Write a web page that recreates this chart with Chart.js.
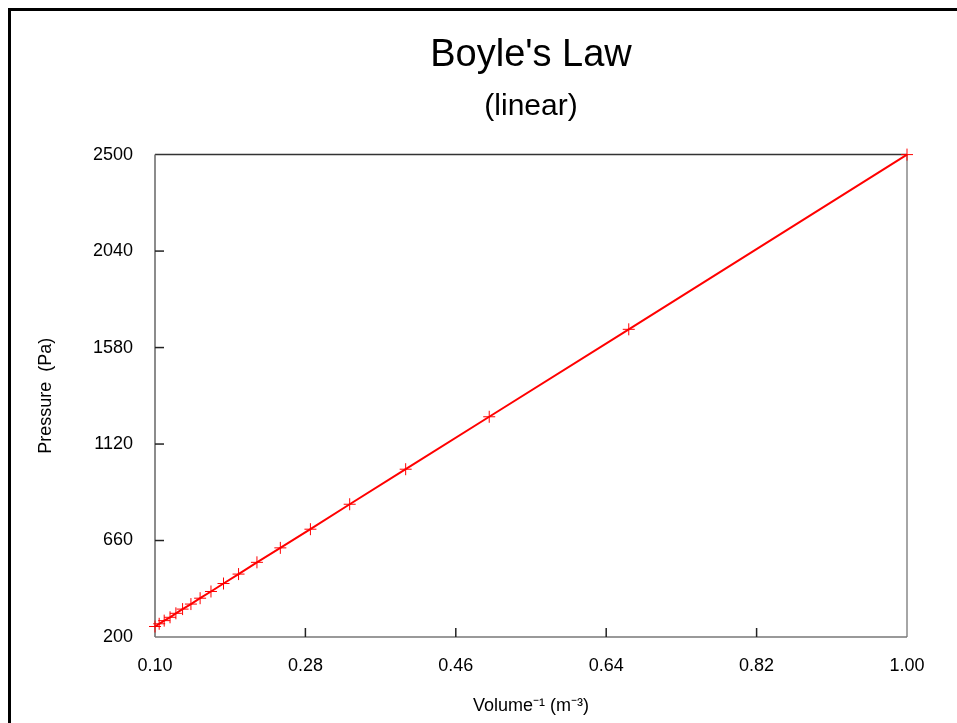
<!DOCTYPE html>
<html>
<head>
<meta charset="utf-8">
<script src="https://cdn.jsdelivr.net/npm/chart.js@4/dist/chart.umd.min.js"></script>
<style>
  html, body { margin: 0; padding: 0; background: #fff; }
  #wrap { position: relative; width: 957px; height: 723px; }
  #frame { position: absolute; left: 8px; top: 8px; width: 960px; height: 730px;
           border-left: 3px solid #000; border-top: 3px solid #000; box-sizing: border-box; }
</style>
</head>
<body>
<div id="wrap">
  <div id="frame"></div>
  <canvas id="boyleChart" width="957" height="723"></canvas>
</div>
<script>
// inverse volume (1/m^3) and measured pressure (Pa)
const inverseVolume = [1.000, 0.667, 0.500, 0.400, 0.333, 0.286, 0.250, 0.222, 0.200, 0.182,
                       0.167, 0.154, 0.143, 0.133, 0.125, 0.118, 0.111, 0.105, 0.100];
const pressure = [2500, 1667, 1250, 1000, 833, 714, 625, 556, 500, 455,
                  417, 385, 357, 333, 313, 294, 278, 263, 250];
const xTicks = [0.10, 0.28, 0.46, 0.64, 0.82, 1.00];
const yTicks = [200, 660, 1120, 1580, 2040, 2500];

const points = inverseVolume.map((v, i) => ({ x: v, y: pressure[i] }));
const fontFamily = "'Liberation Sans', Arial, sans-serif";

// box round the plot with short ticks pointing inward
const plotFrame = {
  id: "plotFrame",
  beforeDatasetsDraw(chart) {
    const { ctx, chartArea: a, scales } = chart;
    ctx.save();
    ctx.lineWidth = 1.5;
    ctx.strokeStyle = "#333";
    ctx.beginPath(); ctx.moveTo(a.left, a.top); ctx.lineTo(a.right, a.top); ctx.stroke();
    ctx.strokeStyle = "#888";
    ctx.beginPath(); ctx.moveTo(a.right, a.top); ctx.lineTo(a.right, a.bottom); ctx.stroke();
    ctx.strokeStyle = "#666";
    ctx.beginPath(); ctx.moveTo(a.left, a.top); ctx.lineTo(a.left, a.bottom); ctx.stroke();
    ctx.strokeStyle = "#777";
    ctx.beginPath(); ctx.moveTo(a.left, a.bottom); ctx.lineTo(a.right, a.bottom); ctx.stroke();

    ctx.strokeStyle = "#222";
    ctx.lineWidth = 1.5;
    xTicks.slice(1, -1).forEach(t => {
      const px = scales.x.getPixelForValue(t);
      ctx.beginPath(); ctx.moveTo(px, a.bottom); ctx.lineTo(px, a.bottom - 9); ctx.stroke();
    });
    yTicks.slice(1, -1).forEach(t => {
      const py = scales.y.getPixelForValue(t);
      ctx.beginPath(); ctx.moveTo(a.left, py); ctx.lineTo(a.left + 9, py); ctx.stroke();
    });
    ctx.restore();
  }
};

new Chart(document.getElementById("boyleChart"), {
  type: "scatter",
  data: {
    datasets: [{
      label: "Pressure",
      data: points,
      showLine: true,
      borderColor: "#ff0000",
      borderWidth: 2,
      pointStyle: "cross",
      pointRadius: 6,
      pointBorderWidth: 1,
      pointBorderColor: "#ff0000",
      pointBackgroundColor: "#ff0000",
      clip: false
    }]
  },
  options: {
    responsive: false,
    animation: false,
    events: [],
    layout: { padding: { left: 0, right: 50, top: 0, bottom: 0 } },
    plugins: {
      legend: { display: false },
      tooltip: { enabled: false },
      title: {
        display: true,
        fullSize: false,
        text: "Boyle's Law",
        color: "#000",
        font: { family: fontFamily, size: 38, weight: "normal", lineHeight: 1.2 },
        padding: { top: 33, bottom: 10 }
      },
      subtitle: {
        display: true,
        fullSize: false,
        text: "(linear)",
        color: "#000",
        font: { family: fontFamily, size: 30, weight: "normal", lineHeight: 1.2 },
        padding: { top: 0, bottom: 30 }
      }
    },
    scales: {
      x: {
        type: "linear",
        min: 0.10,
        max: 1.00,
        afterBuildTicks: s => { s.ticks = xTicks.map(v => ({ value: v })); },
        afterFit: s => { s.height = 86; },
        grid: { display: false, drawTicks: false },
        border: { display: false },
        ticks: {
          color: "#000",
          padding: 18,
          font: { family: fontFamily, size: 18 },
          callback: v => v.toFixed(2)
        },
        title: {
          display: true,
          text: "Volume\u207B\u00B9 (m\u207B\u00B3)",
          color: "#000",
          font: { family: fontFamily, size: 18 },
          padding: { top: 0, bottom: 6 }
        }
      },
      y: {
        type: "linear",
        min: 200,
        max: 2500,
        afterBuildTicks: s => { s.ticks = yTicks.map(v => ({ value: v })); },
        afterFit: s => { s.width = 155; },
        grid: { display: false, drawTicks: false },
        border: { display: false },
        ticks: {
          color: "#000",
          padding: 22,
          font: { family: fontFamily, size: 18 },
          callback: v => String(v)
        },
        title: {
          display: true,
          text: "Pressure  (Pa)",
          color: "#000",
          font: { family: fontFamily, size: 18 },
          padding: { top: 35, bottom: 0 }
        }
      }
    }
  },
  plugins: [plotFrame]
});
</script>
</body>
</html>
